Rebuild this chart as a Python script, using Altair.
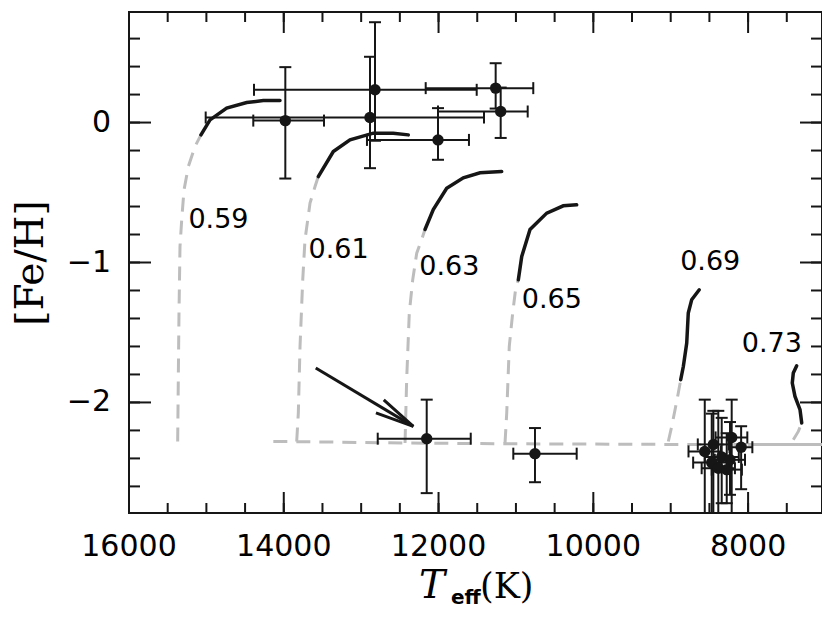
import altair as alt
import pandas as pd

# ---------------- data ----------------
# stars: Teff, [Fe/H], Teff error-bar ends, [Fe/H] error-bar ends
star_teff = [13980, 12886, 12821, 11262, 12007, 11197,
             12153, 10754,
             8560, 8212, 8449, 8090, 8470, 8341, 8234, 8385, 8276]
star_feh = [0.014, 0.036, 0.234, 0.246, -0.124, 0.079,
            -2.259, -2.366,
            -2.35, -2.25, -2.30, -2.32, -2.43, -2.39, -2.41, -2.47, -2.48]
star_teff_lo = [14394, 15009, 14385, 12166, 12925, 12007,
                12786, 11034,
                8770, 8420, 8650, 8240, 8710, 8560, 8430, 8600, 8470]
star_teff_hi = [13480, 11413, 11507, 10776, 11607, 10848,
                11584, 10215,
                8350, 8010, 8250, 7945, 8230, 8120, 8040, 8170, 8080]
star_feh_lo = [-0.40, -0.326, -0.13, 0.10, -0.266, -0.11,
               -2.648, -2.57,
               -2.85, -2.85, -2.80, -2.62, -2.85, -2.72, -2.66, -2.85, -2.72]
star_feh_hi = [0.396, 0.47, 0.717, 0.424, 0.103, 0.25,
               -1.98, -2.183,
               -1.98, -1.98, -2.06, -2.17, -2.08, -2.11, -2.14, -2.06, -2.22]

# evolutionary tracks (mass in Msun): grey dashed part, black solid part
t059_dash_teff = [15371, 15363, 15354, 15341, 15319, 15289, 15233, 15147, 15070]
t059_dash_feh = [-2.279, -1.838, -1.361, -0.886, -0.695, -0.481, -0.314, -0.171, -0.088]
t059_solid_teff = [15070, 14953, 14738, 14479, 14265, 14049]
t059_solid_feh = [-0.088, 0.019, 0.103, 0.143, 0.157, 0.157]

t061_dash_teff = [13833, 13812, 13790, 13755, 13726, 13661, 13596, 13554]
t061_dash_feh = [-2.279, -2.076, -1.600, -1.124, -0.839, -0.576, -0.457, -0.386]
t061_solid_teff = [13554, 13360, 13144, 12843, 12585, 12391]
t061_solid_feh = [-0.386, -0.207, -0.124, -0.076, -0.076, -0.088]

t063_dash_teff = [12433, 12412, 12378, 12334, 12282, 12218, 12175]
t063_dash_feh = [-2.290, -1.838, -1.361, -1.124, -0.933, -0.836, -0.764]
t063_solid_teff = [12175, 12068, 11895, 11680, 11464, 11184]
t063_solid_feh = [-0.764, -0.621, -0.470, -0.395, -0.359, -0.350]

t065_dash_teff = [11141, 11119, 11086, 11042, 11000, 10969]
t065_dash_feh = [-2.290, -2.076, -1.600, -1.361, -1.171, -1.124]
t065_solid_teff = [10969, 10925, 10818, 10602, 10388, 10215]
t065_solid_feh = [-1.124, -0.957, -0.764, -0.647, -0.595, -0.588]

t069_dash_teff = [9031, 8987, 8944, 8902, 8871]
t069_dash_feh = [-2.279, -2.171, -2.052, -1.933, -1.838]
t069_solid_teff = [8871, 8837, 8793, 8773, 8729, 8631]
t069_solid_feh = [-1.838, -1.743, -1.576, -1.361, -1.266, -1.195]

t073_dash_teff = [7416, 7351, 7307]
t073_dash_feh = [-2.266, -2.207, -2.147]
t073_solid_teff = [7307, 7329, 7394, 7429, 7416, 7372]
t073_solid_feh = [-2.147, -2.052, -1.957, -1.861, -1.790, -1.738]

# horizontal branch locus
hb_dash_teff = [14135, 13833, 12433, 11141, 9031, 8000]
hb_dash_feh = [-2.279, -2.280, -2.290, -2.295, -2.300, -2.300]
hb_solid_teff = [8000, 7000]
hb_solid_feh = [-2.300, -2.300]

# track labels
label_text = ["0.59", "0.61", "0.63", "0.65", "0.69", "0.73"]
label_teff = [15232, 13680, 12250, 10925, 8878, 8082]
label_feh = [-0.754, -0.969, -1.088, -1.326, -1.052, -1.643]

# arrow
arrow_teff = [13587, 12326]
arrow_feh = [-1.754, -2.171]

# axis ticks and tick labels
x_major = [16000, 14000, 12000, 10000, 8000]
x_major_labels = ["16000", "14000", "12000", "10000", "8000"]
x_minor = list(range(7500, 16001, 500))
y_major = [-2, -1, 0]
y_major_labels = ["\u22122", "\u22121", "0"]
y_minor = [-2.6, -2.4, -2.2, -2.0, -1.8, -1.6, -1.4, -1.2, -1.0, -0.8,
           -0.6, -0.4, -0.2, 0.0, 0.2, 0.4, 0.6]

# ---------------- build ----------------
W = 693
H = 501
INK = "#161616"
GREY = "#bdbdbd"

xs = alt.Scale(domain=[7045, 16000], reverse=True, nice=False, zero=False)
ys = alt.Scale(domain=[-2.79, 0.79], nice=False, zero=False)


def X(f):
    return alt.X(f, type="quantitative", scale=xs, axis=None)


def Y(f):
    return alt.Y(f, type="quantitative", scale=ys, axis=None)


def lines(parts):
    rows = []
    for name, teffs, fehs in parts:
        for i, (t, f) in enumerate(zip(teffs, fehs)):
            rows.append({"track": name, "i": i, "teff": t, "feh": f})
    return pd.DataFrame(rows)


dash_df = lines([
    ("0.59", t059_dash_teff, t059_dash_feh),
    ("0.61", t061_dash_teff, t061_dash_feh),
    ("0.63", t063_dash_teff, t063_dash_feh),
    ("0.65", t065_dash_teff, t065_dash_feh),
    ("0.69", t069_dash_teff, t069_dash_feh),
    ("0.73", t073_dash_teff, t073_dash_feh),
    ("hb", hb_dash_teff, hb_dash_feh),
])
solid_df = lines([
    ("0.59", t059_solid_teff, t059_solid_feh),
    ("0.61", t061_solid_teff, t061_solid_feh),
    ("0.63", t063_solid_teff, t063_solid_feh),
    ("0.65", t065_solid_teff, t065_solid_feh),
    ("0.69", t069_solid_teff, t069_solid_feh),
    ("0.73", t073_solid_teff, t073_solid_feh),
])
hb_solid_df = lines([("hb", hb_solid_teff, hb_solid_feh)])

stars = pd.DataFrame({
    "teff": star_teff, "feh": star_feh,
    "tlo": star_teff_lo, "thi": star_teff_hi,
    "flo": star_feh_lo, "fhi": star_feh_hi,
})
capx = pd.DataFrame({"teff": star_teff_lo + star_teff_hi,
                     "feh": star_feh + star_feh})
capy = pd.DataFrame({"teff": star_teff + star_teff,
                     "feh": star_feh_lo + star_feh_hi})

labels = pd.DataFrame({"txt": label_text, "teff": label_teff, "feh": label_feh})
arrow = pd.DataFrame({"t0": [arrow_teff[0]], "f0": [arrow_feh[0]],
                      "t1": [arrow_teff[1]], "f1": [arrow_feh[1]]})
tip = pd.DataFrame({"teff": [arrow_teff[1]], "feh": [arrow_feh[1]]})

layers = []

layers.append(alt.Chart(dash_df).mark_line(
    color=GREY, strokeWidth=3, strokeDash=[14, 9], clip=True
).encode(x=X("teff"), y=Y("feh"), detail="track:N", order="i:Q"))

layers.append(alt.Chart(hb_solid_df).mark_line(
    color=GREY, strokeWidth=3, clip=True
).encode(x=X("teff"), y=Y("feh"), order="i:Q"))

layers.append(alt.Chart(solid_df).mark_line(
    color=INK, strokeWidth=3.5, strokeCap="round", clip=True
).encode(x=X("teff"), y=Y("feh"), detail="track:N", order="i:Q"))

# error bars
layers.append(alt.Chart(stars).mark_rule(color=INK, strokeWidth=2, clip=True)
              .encode(x=X("tlo"), x2="thi:Q", y=Y("feh")))
layers.append(alt.Chart(stars).mark_rule(color=INK, strokeWidth=2, clip=True)
              .encode(x=X("teff"), y=Y("flo"), y2="fhi:Q"))
layers.append(alt.Chart(capx).mark_tick(color=INK, thickness=2, size=12,
                                        orient="vertical", opacity=1, clip=True)
              .encode(x=X("teff"), y=Y("feh")))
layers.append(alt.Chart(capy).mark_tick(color=INK, thickness=2, size=12,
                                        orient="horizontal", opacity=1, clip=True)
              .encode(x=X("teff"), y=Y("feh")))
layers.append(alt.Chart(stars).mark_circle(color=INK, size=130, opacity=1)
              .encode(x=X("teff"), y=Y("feh")))

# arrow
layers.append(alt.Chart(arrow).mark_rule(color=INK, strokeWidth=3)
              .encode(x=X("t0"), x2="t1:Q", y=Y("f0"), y2="f1:Q"))
layers.append(alt.Chart(tip).mark_point(
    shape="M -2 -0.39 L 0 0 L -2 0.39", size=1521, angle=30.9,
    filled=False, strokeWidth=3, color=INK, opacity=1
).encode(x=X("teff"), y=Y("feh")))

# track labels
layers.append(alt.Chart(labels).mark_text(
    font="DejaVu Sans", fontSize=27, color="black", align="left",
    baseline="alphabetic"
).encode(x=X("teff"), y=Y("feh"), text="txt:N"))


# inward ticks on all four sides
def xticks(vals, length):
    df = pd.DataFrame({"v": vals})
    bottom = alt.Chart(df).mark_rule(color=INK, strokeWidth=2).encode(
        x=X("v"), y=alt.value(H), y2=alt.value(H - length))
    top = alt.Chart(df).mark_rule(color=INK, strokeWidth=2).encode(
        x=X("v"), y=alt.value(0), y2=alt.value(length))
    return [bottom, top]


def yticks(vals, length):
    df = pd.DataFrame({"v": vals})
    left = alt.Chart(df).mark_rule(color=INK, strokeWidth=2).encode(
        y=Y("v"), x=alt.value(0), x2=alt.value(length))
    right = alt.Chart(df).mark_rule(color=INK, strokeWidth=2).encode(
        y=Y("v"), x=alt.value(W), x2=alt.value(W - length))
    return [left, right]


layers += xticks(x_minor, 10) + xticks(x_major, 21)
layers += yticks(y_minor, 11) + yticks(y_major, 22)

# tick labels
xl = pd.DataFrame({"v": x_major, "s": x_major_labels})
layers.append(alt.Chart(xl).mark_text(
    font="DejaVu Sans", fontSize=30, color="black", align="center",
    baseline="alphabetic"
).encode(x=X("v"), y=alt.value(H + 43), text="s:N"))

yl = pd.DataFrame({"v": y_major, "s": y_major_labels})
layers.append(alt.Chart(yl).mark_text(
    font="DejaVu Sans", fontSize=30, color="black", align="right",
    baseline="middle"
).encode(y=Y("v"), x=alt.value(-18), text="s:N"))


# axis titles
def txt(s, x, y, **kw):
    return alt.Chart(pd.DataFrame({"s": [s]})).mark_text(
        color="black", **kw
    ).encode(text="s:N", x=alt.value(x), y=alt.value(y))


layers.append(txt("[Fe/H]", -98, 251, font="DejaVu Serif", fontSize=39,
                  angle=270, align="center", baseline="middle"))
layers.append(txt("T", 290, 586, font="DejaVu Serif", fontSize=39,
                  fontStyle="italic", align="left", baseline="alphabetic"))
layers.append(txt("eff", 322, 592, font="DejaVu Sans", fontSize=20,
                  fontWeight="bold", align="left", baseline="alphabetic"))
layers.append(txt("(K)", 351, 586, font="DejaVu Serif", fontSize=35,
                  align="left", baseline="alphabetic"))

chart = alt.layer(*layers).properties(
    width=W, height=H,
    autosize=alt.AutoSizeParams(type="none"),
    padding={"left": 121, "top": 4, "right": 0, "bottom": 95},
).configure_view(stroke=INK, strokeWidth=2)

chart.save("out.html", embed_options={"renderer": "svg", "actions": False})
